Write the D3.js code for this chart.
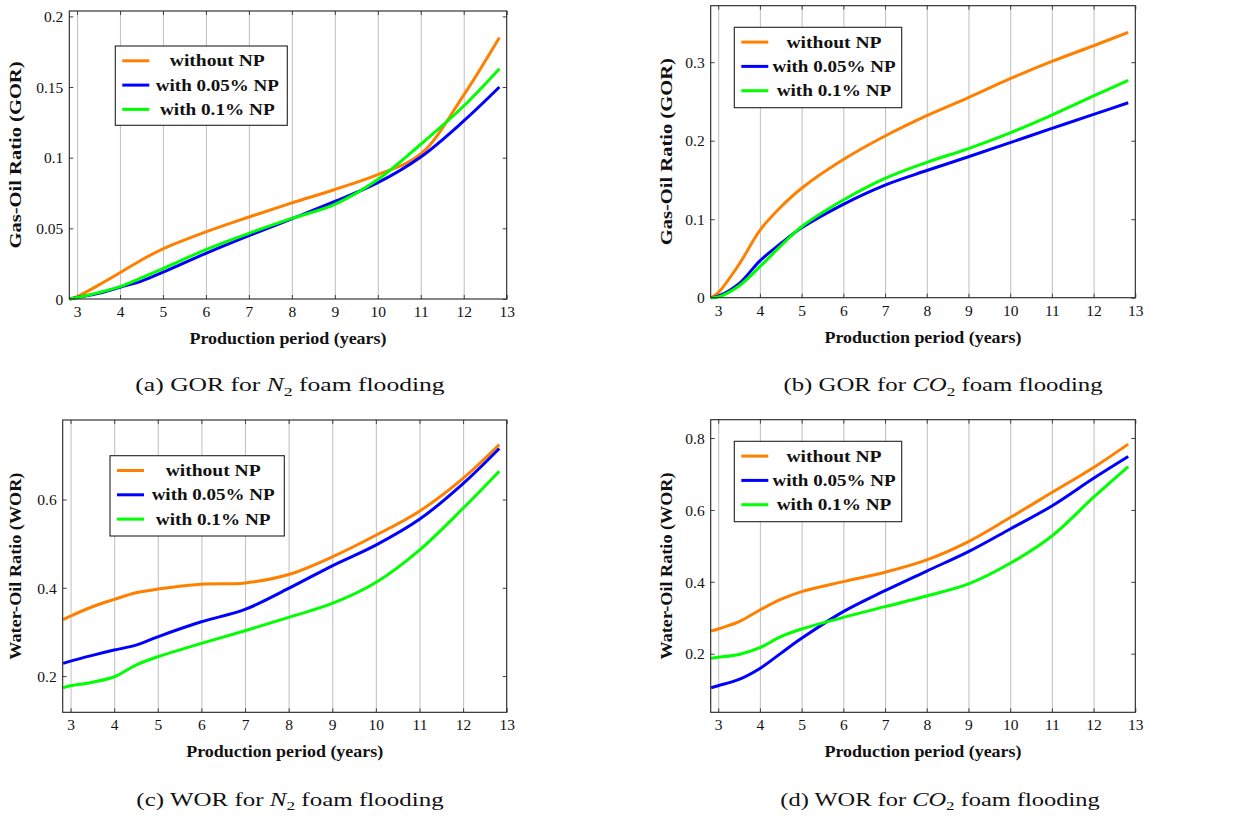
<!DOCTYPE html>
<html>
<head>
<meta charset="utf-8">
<script src="https://cdn.jsdelivr.net/npm/d3@7"></script>
<style>
  html, body { margin: 0; padding: 0; background: #fff; }
  svg { display: block; }
</style>
</head>
<body>
<svg id="chart" width="1257" height="823"></svg>
<script>
// ---------------- data ----------------
const years = [2.83, 3, 3.5, 4, 4.5, 5, 6, 7, 8, 9, 10, 11, 12, 12.83];
const seriesNames = ["without NP", "with 0.05% NP", "with 0.1% NP"];
const seriesColors = ["#ff8000", "#0000ff", "#00ff00"];
const xTicks = [3, 4, 5, 6, 7, 8, 9, 10, 11, 12, 13];

const gorN2_without = [0, 0.0017, 0.0098, 0.0186, 0.0276, 0.0355, 0.0475, 0.058, 0.068, 0.0775, 0.088, 0.1026, 0.1443, 0.185];
const gorN2_np005   = [0, 0.001, 0.004, 0.0083, 0.0127, 0.019, 0.0323, 0.0448, 0.0568, 0.069, 0.0823, 0.1005, 0.126, 0.150];
const gorN2_np01    = [0, 0.001, 0.0045, 0.0088, 0.015, 0.0215, 0.035, 0.0465, 0.057, 0.067, 0.0845, 0.1095, 0.1366, 0.163];

const gorCO2_without = [0, 0.0064, 0.0425, 0.0858, 0.1155, 0.1395, 0.176, 0.206, 0.232, 0.255, 0.279, 0.301, 0.321, 0.338];
const gorCO2_np005   = [0, 0.002, 0.018, 0.047, 0.069, 0.089, 0.119, 0.1435, 0.162, 0.1796, 0.1975, 0.2157, 0.2335, 0.2484];
const gorCO2_np01    = [0, 0.001, 0.015, 0.0395, 0.066, 0.0904, 0.1244, 0.152, 0.1724, 0.190, 0.210, 0.2327, 0.257, 0.2769];

const worN2_without = [0.328, 0.336, 0.357, 0.3736, 0.3887, 0.397, 0.408, 0.411, 0.430, 0.470, 0.519, 0.5736, 0.648, 0.7245];
const worN2_np005   = [0.2287, 0.234, 0.247, 0.259, 0.270, 0.289, 0.323, 0.351, 0.3985, 0.4498, 0.4966, 0.555, 0.636, 0.7155];
const worN2_np01    = [0.1736, 0.178, 0.186, 0.1985, 0.225, 0.2438, 0.274, 0.3026, 0.333, 0.3645, 0.412, 0.4853, 0.580, 0.664];

const worCO2_without = [0.263, 0.2687, 0.289, 0.3216, 0.351, 0.3726, 0.4005, 0.4265, 0.4608, 0.5118, 0.5787, 0.6483, 0.718, 0.783];
const worCO2_np005   = [0.1053, 0.111, 0.1285, 0.159, 0.201, 0.2427, 0.317, 0.3754, 0.430, 0.484, 0.547, 0.611, 0.688, 0.7485];
const worCO2_np01    = [0.187, 0.19, 0.198, 0.2167, 0.2473, 0.2687, 0.301, 0.3309, 0.3606, 0.394, 0.4515, 0.5276, 0.6353, 0.7207];

const gorN2Ticks  = [0, 0.05, 0.1, 0.15, 0.2];
const gorCO2Ticks = [0, 0.1, 0.2, 0.3];
const worN2Ticks  = [0.2, 0.4, 0.6];
const worCO2Ticks = [0.2, 0.4, 0.6, 0.8];

// ---------------- layout ----------------
const panels = [
  { box: {l: 69.3, r: 506.7, t: 11, b: 299}, yDomain: [0, 0.2038], yTicks: gorN2Ticks,
    series: [gorN2_without, gorN2_np005, gorN2_np01], yTitle: "Gas-Oil Ratio (GOR)", yTitleX: 16,
    legend: {x: 115.3, y: 46, w: 172, h: 79.3},
    cap: {x: 290, y: 391, w: 310, pre: "(a) GOR for ", chem: "N", sub: "2", post: " foam flooding"} },
  { box: {l: 710.7, r: 1135.3, t: 5.7, b: 297.7}, yDomain: [0, 0.372], yTicks: gorCO2Ticks,
    series: [gorCO2_without, gorCO2_np005, gorCO2_np01], yTitle: "Gas-Oil Ratio (GOR)", yTitleX: 666.7,
    legend: {x: 734.3, y: 27.3, w: 167.4, h: 80.4},
    cap: {x: 943, y: 391, w: 320, pre: "(b) GOR for ", chem: "CO", sub: "2", post: " foam flooding"} },
  { box: {l: 62.7, r: 506.7, t: 420, b: 712.3}, yDomain: [0.118, 0.78], yTicks: worN2Ticks,
    series: [worN2_without, worN2_np005, worN2_np01], yTitle: "Water-Oil Ratio (WOR)", yTitleX: 16,
    legend: {x: 110, y: 455.7, w: 174.3, h: 80.3},
    cap: {x: 290, y: 805.5, w: 308, pre: "(c) WOR for ", chem: "N", sub: "2", post: " foam flooding"} },
  { box: {l: 710.7, r: 1135.3, t: 419.7, b: 712.3}, yDomain: [0.037, 0.851], yTicks: worCO2Ticks,
    series: [worCO2_without, worCO2_np005, worCO2_np01], yTitle: "Water-Oil Ratio (WOR)", yTitleX: 666.7,
    legend: {x: 734.3, y: 441.3, w: 167.4, h: 80.4},
    cap: {x: 940, y: 805.5, w: 320, pre: "(d) WOR for ", chem: "CO", sub: "2", post: " foam flooding"} }
];

const svg = d3.select("#chart");
const serif = "'Liberation Serif', 'Times New Roman', serif";
const fmt = v => (v === 0 ? "0" : String(+v.toFixed(3)));

panels.forEach(p => {
  const B = p.box;
  const x = d3.scaleLinear().domain([2.82, 13]).range([B.l, B.r]);
  const y = d3.scaleLinear().domain(p.yDomain).range([B.b, B.t]);
  const g = svg.append("g");

  // vertical grid
  g.append("g").attr("transform", `translate(0,${B.b})`)
    .call(d3.axisBottom(x).tickValues(xTicks.filter(t => t < 13)).tickSize(-(B.b - B.t)).tickFormat(""))
    .call(s => s.select(".domain").remove())
    .call(s => s.selectAll("line").attr("stroke", "#c4c4c4").attr("stroke-width", 1.1));

  // inward ticks on all sides
  const tk = "#444";
  g.append("g").attr("transform", `translate(${B.l},0)`)
    .call(d3.axisLeft(y).tickValues(p.yTicks).tickSize(-4).tickFormat(""))
    .call(s => s.select(".domain").remove()).call(s => s.selectAll("line").attr("stroke", tk));
  g.append("g").attr("transform", `translate(${B.r},0)`)
    .call(d3.axisRight(y).tickValues(p.yTicks).tickSize(-4).tickFormat(""))
    .call(s => s.select(".domain").remove()).call(s => s.selectAll("line").attr("stroke", tk));
  g.append("g").attr("transform", `translate(0,${B.b})`)
    .call(d3.axisBottom(x).tickValues(xTicks).tickSize(-4).tickFormat(""))
    .call(s => s.select(".domain").remove()).call(s => s.selectAll("line").attr("stroke", tk));
  g.append("g").attr("transform", `translate(0,${B.t})`)
    .call(d3.axisTop(x).tickValues(xTicks).tickSize(-4).tickFormat(""))
    .call(s => s.select(".domain").remove()).call(s => s.selectAll("line").attr("stroke", tk));

  // tick labels
  g.append("g").attr("transform", `translate(0,${B.b})`)
    .call(d3.axisBottom(x).tickValues(xTicks).tickSize(0).tickPadding(0).tickFormat(d3.format("d")))
    .call(s => s.select(".domain").remove())
    .call(s => s.selectAll("text").attr("y", 18).attr("dy", null)
      .attr("font-family", serif).attr("font-size", 15.5).attr("fill", "#111"));
  g.append("g").attr("transform", `translate(${B.l},0)`)
    .call(d3.axisLeft(y).tickValues(p.yTicks).tickSize(0).tickPadding(6).tickFormat(fmt))
    .call(s => s.select(".domain").remove())
    .call(s => s.selectAll("text").attr("dy", "0.34em")
      .attr("font-family", serif).attr("font-size", 15.5).attr("fill", "#111"));

  // lines
  const line = d3.line().x((d, i) => x(years[i])).y(d => y(d)).curve(d3.curveCatmullRom.alpha(0.5));
  p.series.forEach((s, k) => {
    g.append("path").datum(s).attr("d", line)
      .attr("fill", "none").attr("stroke", seriesColors[k]).attr("stroke-width", 3)
      .attr("stroke-linejoin", "round").attr("stroke-linecap", "butt");
  });

  // frame
  g.append("rect").attr("x", B.l).attr("y", B.t).attr("width", B.r - B.l).attr("height", B.b - B.t)
    .attr("fill", "none").attr("stroke", "#222").attr("stroke-width", 1.1);

  // axis titles
  g.append("text").attr("x", (x(2.82) + x(13)) / 2).attr("y", B.b + 45)
    .attr("text-anchor", "middle").attr("font-family", serif).attr("font-weight", "bold")
    .attr("font-size", 16).attr("textLength", 197).attr("lengthAdjust", "spacingAndGlyphs")
    .attr("fill", "#111").text("Production period (years)");
  const yc = (B.t + B.b) / 2;
  g.append("text").attr("transform", `translate(${p.yTitleX + 5},${yc}) rotate(-90)`)
    .attr("text-anchor", "middle").attr("font-family", serif).attr("font-weight", "bold")
    .attr("font-size", 16).attr("textLength", 187).attr("lengthAdjust", "spacingAndGlyphs")
    .attr("fill", "#111").text(p.yTitle);

  // legend
  const L = p.legend;
  const lg = g.append("g");
  lg.append("rect").attr("x", L.x).attr("y", L.y).attr("width", L.w).attr("height", L.h)
    .attr("fill", "#fff").attr("stroke", "#222").attr("stroke-width", 1.1);
  const legWidths = [95, 123, 114.7];
  seriesNames.forEach((n, k) => {
    const ry = L.y + 14.8 + k * 24.3;
    lg.append("line").attr("x1", L.x + 7).attr("x2", L.x + 34).attr("y1", ry).attr("y2", ry)
      .attr("stroke", seriesColors[k]).attr("stroke-width", 3);
    lg.append("text").attr("x", (L.x + 34 + L.x + L.w) / 2 - 1).attr("y", ry + 5.5)
      .attr("text-anchor", "middle").attr("font-family", serif).attr("font-weight", "bold")
      .attr("font-size", 16).attr("textLength", legWidths[k]).attr("lengthAdjust", "spacingAndGlyphs")
      .attr("fill", "#111").text(n);
  });

  // caption (stretched horizontally to the reference width)
  const c = p.cap;
  const cg = g.append("g").attr("transform", `translate(${c.x},${c.y})`);
  const ct = cg.append("text").attr("x", 0).attr("y", 0).attr("text-anchor", "middle")
    .attr("font-family", serif).attr("font-size", 18.8).attr("fill", "#111");
  ct.append("tspan").text(c.pre);
  ct.append("tspan").attr("font-style", "italic").text(c.chem);
  ct.append("tspan").attr("font-size", 13).attr("dy", 4.5).text(c.sub);
  ct.append("tspan").attr("dy", -4.5).text(c.post);
  const w = ct.node().getBBox().width;
  if (w > 0) cg.attr("transform", `translate(${c.x},${c.y}) scale(${c.w / w},1)`);
});
</script>
</body>
</html>
